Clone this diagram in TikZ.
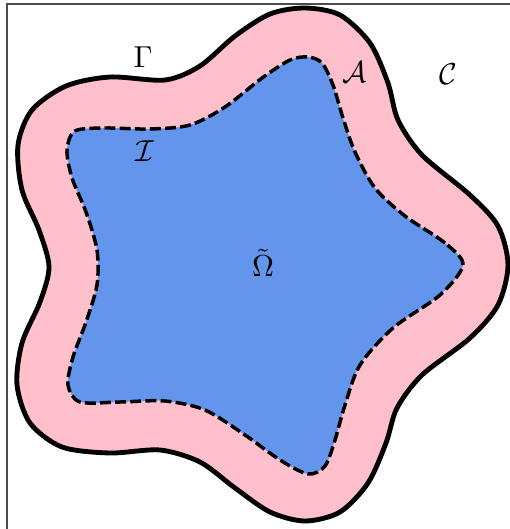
\documentclass[tikz,border=0pt]{standalone}
\definecolor{bandpink}{RGB}{255,192,203}
\definecolor{coreblue}{RGB}{100,149,237}
\begin{document}
\begin{tikzpicture}[x=0.33pt, y=-0.33pt,
    band/.style={fill=bandpink, draw=black, line width=1.6pt},
    core/.style={fill=coreblue, draw=black, line width=1.15pt, dash pattern=on 3.6pt off 1.4pt},
    frame/.style={line width=0.4pt, black!70},
    lbl/.style={inner sep=0pt},
]
\useasboundingbox (0,0) rectangle (510,529);
\draw[frame] (7,529) -- (7,4) -- (510,4);

\path[band] plot[smooth cycle] coordinates {
  (508,265) (498,226) (470,195) (422,155) (398,120) (388,83)
  (370,43) (340,15) (305,8) (270,14) (235,36) (200,66) (165,80) (110,77)
  (66,86) (32,110) (18,145) (22,190) (39,230) (49,267) (40,302) (22,343)
  (17,385) (30,423) (62,447) (110,453) (160,450) (200,462) (235,488)
  (270,512) (305,521) (340,512) (368,483) (386,443) (397,408) (422,375)
  (470,338) (498,305)};

\path[core] plot[smooth cycle] coordinates {
  (463,265) (445,243) (405,216) (375,188) (355,152) (343,118) (333,85)
  (322,63) (308,57) (290,60) (262,78) (225,107) (190,125) (150,129)
  (105,128) (75,131) (67,150) (72,178) (86,212) (97,250) (97,285) (86,322)
  (73,357) (68,385) (80,402) (120,402) (165,401) (205,410) (245,435)
  (280,460) (308,474) (325,466) (335,440) (345,405) (360,365) (393,328)
  (440,295)};

\node[lbl] (gamma) at (143,57) {$\Gamma$};
\node[lbl] (annulus) at (355,72) {$\mathcal{A}$};
\node[lbl] (outside) at (448,74) {$\mathcal{C}$};
\node[lbl] (iface) at (145,151) {$\mathcal{I}$};
\node[lbl] (omega) at (263,263) {$\tilde{\Omega}$};
\end{tikzpicture}
\end{document}
